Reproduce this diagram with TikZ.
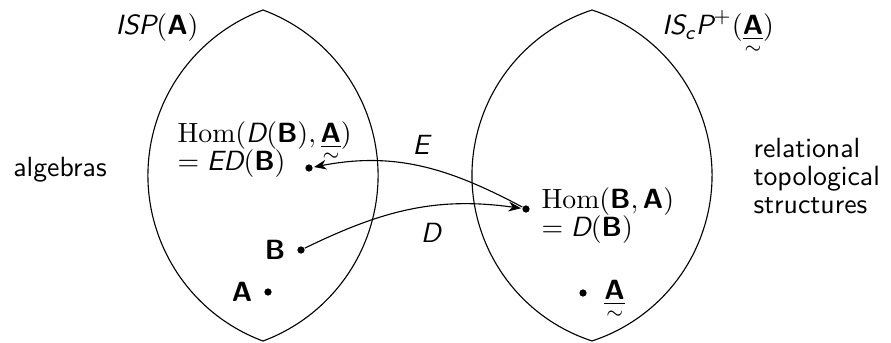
\documentclass[tikz,border=0pt]{standalone}
\usepackage{amsmath}
\usepackage{amssymb}
\usepackage{tikz}
\usetikzlibrary{arrows.meta, positioning}
\newcommand{\sit}[1]{\textsf{\itshape #1}}
\newcommand{\bA}{\textsf{\bfseries A}}
\newcommand{\bB}{\textsf{\bfseries B}}
\newcommand{\tA}{\mathord{\underline{\bA}\llap{\makebox[0.72em]{\smash{\raisebox{-0.66em}{$\scriptstyle\sim$}}}}}}

\begin{document}
\begin{tikzpicture}[
    x=0.36pt, y=0.36pt,
    lens/.style={draw=black, thin},
    dot/.style={circle, fill=black, inner sep=0pt, minimum size=2.6pt},
    txt/.style={font=\sffamily, inner sep=0pt},
    arr/.style={-{Stealth[length=4.5pt,width=3.5pt]}, thin, shorten >=0.3pt}
]
\useasboundingbox (0,0) rectangle (891,342);

% the two classes
\draw[lens] (263,332) arc[start angle=69.6, end angle=-69.6, radius=176.6]
                      arc[start angle=249.6, end angle=110.4, radius=176.6] -- cycle;
\draw[lens] (592,332) arc[start angle=71.9, end angle=-71.9, radius=174.1]
                      arc[start angle=251.9, end angle=108.1, radius=174.1] -- cycle;

\node[txt, anchor=base east] (isp)  at (199,307) {$\sit{ISP}(\bA)$};
\node[txt, anchor=base] (iscp) at (718,307) {$\sit{IS}_{\sit{c}}\sit{P}^{+}(\tA)$};
\node[txt, anchor=base] (alg)  at (60,165)  {algebras};
\node[txt, anchor=west, align=left] (rel) at (753,166)
    {relational\\[-2pt] topological\\[-2pt] structures};

% points
\node[dot] (ed)  at (309,174) {};
\node[dot] (db)  at (526,133) {};
\node[dot, label={[txt, label distance=4pt]left:$\bB$}] (b) at (301,92) {};
\node[dot, label={[txt, label distance=4pt]left:$\bA$}] (a) at (268,50) {};
\node[dot, label={[txt, label distance=6pt]right:$\tA$}] (at) at (583,49) {};

\node[txt, anchor=north west, align=left] (edtxt) at (177,221)
    {$\mathrm{Hom}(\sit{D}(\bB), \tA)$\\[-2pt] $= \sit{ED}(\bB)$};
\node[txt, anchor=north west, align=left] (dbtxt) at (541,155)
    {$\mathrm{Hom}(\bB, \bA)$\\[-2pt] $= \sit{D}(\bB)$};

% maps
\draw[arr] (db) to[out=152, in=11] node[pos=0.5, above=4pt, txt] {$\sit{E}$} (ed);
\draw[arr] (b) to[out=26, in=172] node[pos=0.6, below=6pt, txt] {$\sit{D}$} (db);

\end{tikzpicture}
\end{document}
